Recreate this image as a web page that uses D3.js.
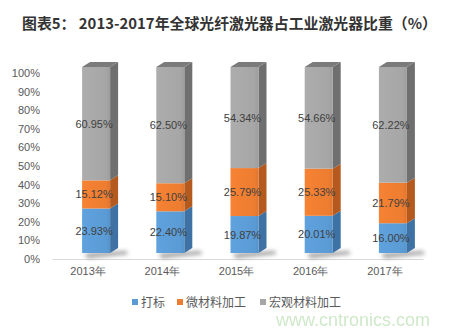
<!DOCTYPE html>
<html><head><meta charset="utf-8">
<script src="https://cdn.jsdelivr.net/npm/d3@7"></script>
<style>
html,body{margin:0;padding:0;background:#fff;}
svg{display:block;font-family:"Noto Sans CJK SC","Microsoft YaHei",sans-serif;}
</style></head>
<body>
<svg id="chart" width="464" height="329"></svg>
<script>
const title = "图表5： 2013-2017年全球光纤激光器占工业激光器比重（%）";
const categories = ["2013年","2014年","2015年","2016年","2017年"];
const seriesNames = ["打标","微材料加工","宏观材料加工"];
const marking = [23.93, 22.40, 19.87, 20.01, 16.00];
const microProc = [15.12, 15.10, 25.79, 25.33, 21.79];
const macroProc = [60.95, 62.50, 54.34, 54.66, 62.22];
const yTicks = [0,10,20,30,40,50,60,70,80,90,100];

const series = [marking, microProc, macroProc];
const colors = [
  {front:"#5b9bd5", side:"#3e72a4", top:"#4a84bd"},
  {front:"#ed7d31", side:"#b55a1e", top:"#d06a26"},
  {front:"#a6a6a6", side:"#6f6f6f", top:"#7b7b7b"}
];

const svg = d3.select("#chart");
const defs = svg.append("defs");
const blur = defs.append("filter").attr("id","blur").attr("x","-50%").attr("y","-50%").attr("width","200%").attr("height","200%");
blur.append("feGaussianBlur").attr("stdDeviation",2.2);

colors.forEach((c,i)=>{
  const g = defs.append("linearGradient").attr("id","fg"+i).attr("x1","0").attr("x2","1").attr("y1","0").attr("y2","0");
  g.append("stop").attr("offset","0").attr("stop-color", d3.color(c.front).brighter(0.12));
  g.append("stop").attr("offset","0.85").attr("stop-color", c.front);
  g.append("stop").attr("offset","1").attr("stop-color", d3.color(c.front).darker(0.15));
});

// watermark
svg.append("text").attr("x",276).attr("y",326)
  .attr("font-family","Liberation Sans, Arial, sans-serif").attr("font-size",18)
  .attr("fill","#c4e3bd").attr("opacity",0.8).text("www.cntronics.com");

// title
svg.append("text").attr("x",22).attr("y",29)
  .attr("font-size",15).attr("font-weight","bold").attr("fill","#333333")
  .attr("textLength",415).attr("lengthAdjust","spacingAndGlyphs")
  .text(title);

const x = d3.scaleBand().domain(categories).range([52,423]);
const y = d3.scaleLinear().domain([0,100]).range([259,73]);

const yAxis = d3.axisLeft(y).tickValues(yTicks).tickFormat(d=>d+"%").tickSize(0).tickPadding(0);
const ya = svg.append("g").attr("transform","translate(40,0)").call(yAxis);
ya.select(".domain").remove();
ya.selectAll("text").attr("font-family","Liberation Sans, Arial, sans-serif").attr("font-size",11).attr("fill","#595959");

const xAxis = d3.axisBottom(x).tickSize(0).tickPadding(0);
const xa = svg.append("g").attr("transform","translate(0,259)").call(xAxis);
xa.select(".domain").attr("stroke","#d9d9d9").attr("stroke-width",1);
xa.selectAll("text").attr("font-size",11).attr("fill","#595959").attr("dy","1.45em").attr("dx",-1);

const W = 28, DX = 8, DY = -5, OFF = -6;
const yf = v => y(v) + OFF;

const bars = svg.append("g");
categories.forEach((cat,i)=>{
  const x0 = x(cat) + x.bandwidth()/2 - 7;
  const x1 = x0 + W;
  bars.append("path")
    .attr("d",`M${x0+2},${yf(0)+1} L${x1+DX+8},${yf(0)+DY+3} L${x1+DX+10},${yf(0)+DY+6} L${x0+6},${yf(0)+5} Z`)
    .attr("fill","#404040").attr("opacity",0.55).attr("filter","url(#blur)");
  let cum = 0;
  series.forEach((s,k)=>{
    const v0 = cum, v1 = cum + s[i];
    cum = v1;
    const yb = yf(v0), yt = yf(v1);
    bars.append("path")
      .attr("d",`M${x1},${yb} L${x1+DX},${yb+DY} L${x1+DX},${yt+DY} L${x1},${yt} Z`)
      .attr("fill",colors[k].side);
    bars.append("rect").attr("x",x0).attr("y",yt).attr("width",W).attr("height",yb-yt)
      .attr("fill",`url(#fg${k})`);
    if (k === series.length-1) {
      bars.append("path")
        .attr("d",`M${x0},${yt} L${x0+DX},${yt+DY} L${x1+DX},${yt+DY} L${x1},${yt} Z`)
        .attr("fill",colors[k].top);
    }
    bars.append("text")
      .attr("x",x0 + W/2 - 2).attr("y",(yb+yt)/2 + 4)
      .attr("text-anchor","middle")
      .attr("font-family","Liberation Sans, Arial, sans-serif")
      .attr("font-size",11).attr("fill","#404040")
      .text(s[i].toFixed(2)+"%");
  });
});

const legendX = [132, 177, 260];
const lg = svg.append("g");
seriesNames.forEach((n,k)=>{
  lg.append("rect").attr("x",legendX[k]).attr("y",299).attr("width",6).attr("height",6).attr("fill",colors[k].front);
  lg.append("text").attr("x",legendX[k]+9).attr("y",306.5).attr("font-size",12).attr("fill","#595959").text(n);
});
</script>
</body></html>
